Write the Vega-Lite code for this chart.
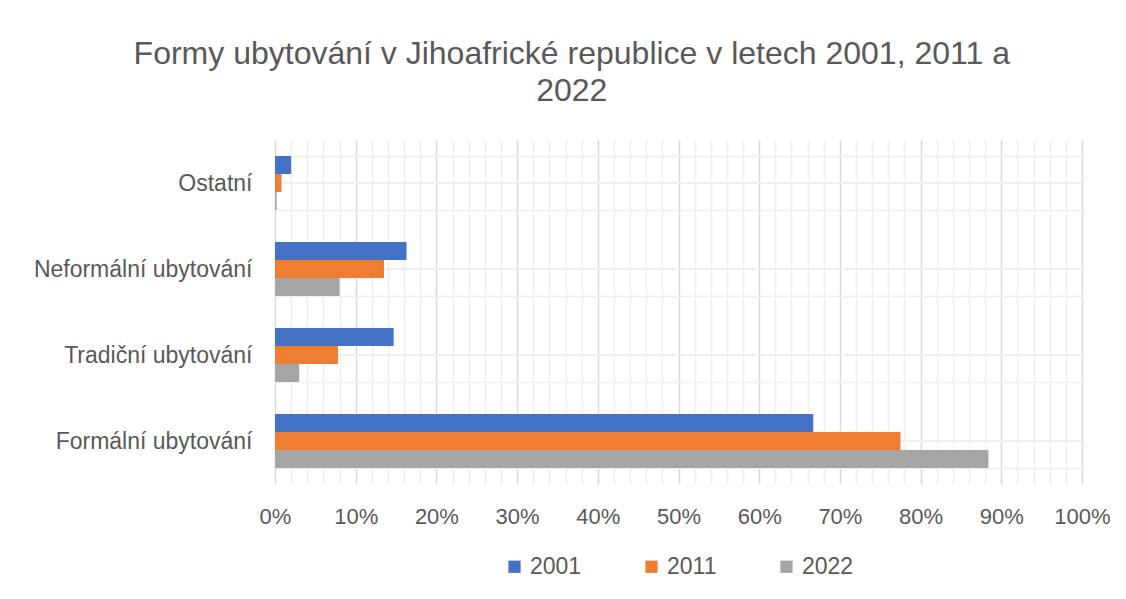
{
  "$schema": "https://vega.github.io/schema/vega-lite/v6.json",
  "width": 807,
  "height": 344,
  "padding": {"left": 33, "top": 38, "right": 10, "bottom": 10},
  "background": "white",
  "title": {
    "text": ["Formy ubytování v Jihoafrické republice v letech 2001, 2011 a", "2022"],
    "font": "Liberation Sans",
    "fontSize": 32,
    "fontWeight": "normal",
    "color": "#595959",
    "lineHeight": 37,
    "anchor": "middle",
    "frame": "bounds",
    "offset": 21
  },
  "data": {
    "values": [
      {"cat": "Ostatní", "year": "2001", "pct": 2.0},
      {"cat": "Ostatní", "year": "2011", "pct": 0.8},
      {"cat": "Ostatní", "year": "2022", "pct": 0.2},
      {"cat": "Neformální ubytování", "year": "2001", "pct": 16.3},
      {"cat": "Neformální ubytování", "year": "2011", "pct": 13.5},
      {"cat": "Neformální ubytování", "year": "2022", "pct": 8.0},
      {"cat": "Tradiční ubytování", "year": "2001", "pct": 14.7},
      {"cat": "Tradiční ubytování", "year": "2011", "pct": 7.8},
      {"cat": "Tradiční ubytování", "year": "2022", "pct": 3.0},
      {"cat": "Formální ubytování", "year": "2001", "pct": 66.7},
      {"cat": "Formální ubytování", "year": "2011", "pct": 77.5},
      {"cat": "Formální ubytování", "year": "2022", "pct": 88.4}
    ]
  },
  "layer": [
    {
      "mark": {"type": "rule", "color": "#efefef", "strokeWidth": 1.5},
      "encoding": {
        "y": {
          "field": "cat",
          "type": "nominal",
          "sort": ["Ostatní", "Neformální ubytování", "Tradiční ubytování", "Formální ubytování"]
        }
      }
    },
    {
      "mark": {"type": "bar"},
      "encoding": {
        "y": {
          "field": "cat",
          "type": "nominal",
          "sort": ["Ostatní", "Neformální ubytování", "Tradiční ubytování", "Formální ubytování"],
          "scale": {"paddingInner": 0.372, "paddingOuter": 0.186},
          "axis": {
            "title": null,
            "domain": false,
            "ticks": false,
            "grid": true,
            "tickBand": "extent",
            "gridColor": "#efefef",
            "gridWidth": 1.5,
            "labelFont": "Liberation Sans",
            "labelFontSize": 23,
            "labelColor": "#595959",
            "labelPadding": 23,
            "labelLimit": 0
          }
        },
        "yOffset": {
          "field": "year",
          "type": "nominal",
          "sort": ["2001", "2011", "2022"],
          "scale": {"paddingInner": 0, "paddingOuter": 0}
        },
        "x": {
          "field": "pct",
          "type": "quantitative",
          "scale": {"domain": [0, 100], "nice": false},
          "axis": {
            "title": null,
            "domain": false,
            "ticks": false,
            "grid": true,
            "values": [0,2,4,6,8,10,12,14,16,18,20,22,24,26,28,30,32,34,36,38,40,42,44,46,48,50,52,54,56,58,60,62,64,66,68,70,72,74,76,78,80,82,84,86,88,90,92,94,96,98,100],
            "labelExpr": "datum.value % 10 === 0 ? datum.value + '%' : ''",
            "labelOverlap": false,
            "labelFlush": false,
            "gridColor": {"condition": {"test": "datum.value % 10 === 0", "value": "#d9d9d9"}, "value": "#efefef"},
            "gridWidth": 1.5,
            "labelFont": "Liberation Sans",
            "labelFontSize": 22,
            "labelColor": "#595959",
            "labelPadding": 22
          }
        },
        "color": {
          "field": "year",
          "type": "nominal",
          "scale": {"domain": ["2001", "2011", "2022"], "range": ["#4472C4", "#ED7D31", "#A5A5A5"]},
          "legend": {
            "title": null,
            "orient": "bottom",
            "direction": "horizontal",
            "symbolType": "square",
            "symbolSize": 150,
            "symbolStrokeWidth": 0,
            "labelFont": "Liberation Sans",
            "labelFontSize": 23,
            "labelColor": "#595959",
            "columnPadding": 58,
            "labelOffset": 4,
            "offset": 28
          }
        }
      }
    }
  ],
  "config": {
    "view": {"stroke": null},
    "legend": {"layout": {"bottom": {"anchor": "middle"}}}
  }
}
